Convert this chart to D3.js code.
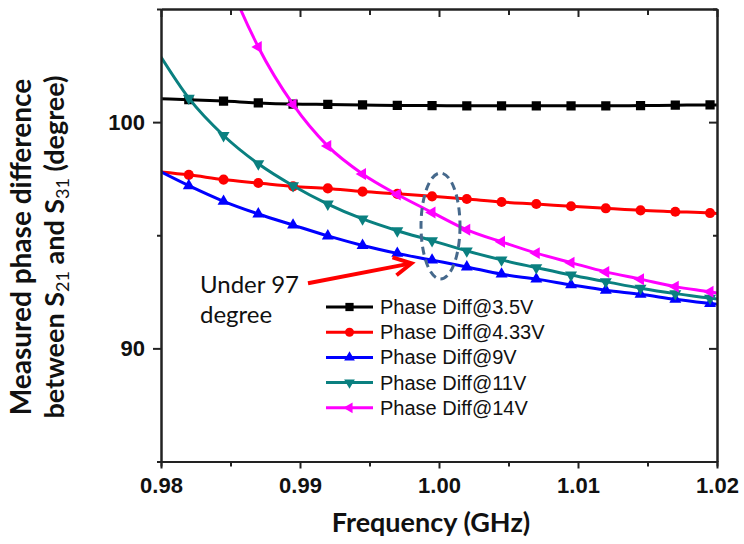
<!DOCTYPE html>
<html>
<head>
<meta charset="utf-8">
<script src="https://cdn.jsdelivr.net/npm/d3@7/dist/d3.min.js"></script>
<style>
  html, body { margin: 0; padding: 0; background: #fff; }
  svg { display: block; }
</style>
</head>
<body>
<svg id="chart" width="744" height="544"></svg>
<script>
// ---- data ----
const freq = [0.98, 0.982, 0.9845, 0.987, 0.9895, 0.992, 0.9945, 0.997, 0.9995,
              1.002, 1.0045, 1.007, 1.0095, 1.012, 1.0145, 1.017, 1.0195, 1.02];
const phase3_5V  = [101.03, 100.99, 100.93, 100.85, 100.80, 100.78, 100.76, 100.74, 100.73,
                    100.72, 100.72, 100.72, 100.72, 100.72, 100.73, 100.75, 100.76, 100.76];
const phase4_33V = [97.80, 97.67, 97.46, 97.31, 97.16, 97.07, 96.93, 96.83, 96.72,
                    96.60, 96.47, 96.38, 96.28, 96.19, 96.10, 96.04, 95.98, 95.96];
const phase9V    = [97.80, 97.19, 96.50, 95.94, 95.45, 94.97, 94.55, 94.20, 93.90,
                    93.60, 93.28, 93.06, 92.81, 92.57, 92.39, 92.17, 91.98, 91.95];
const phase11V   = [102.88, 101.06, 99.41, 98.16, 97.19, 96.38, 95.72, 95.20, 94.76,
                    94.31, 93.91, 93.57, 93.24, 92.95, 92.66, 92.42, 92.22, 92.18];
const phase14V   = [117.0, 111.7, 106.85, 103.32, 100.78, 98.94, 97.71, 96.80, 96.01,
                    95.24, 94.71, 94.21, 93.79, 93.38, 93.06, 92.73, 92.50, 92.45];
const seriesNames = ["Phase Diff@3.5V", "Phase Diff@4.33V", "Phase Diff@9V", "Phase Diff@11V", "Phase Diff@14V"];
const seriesValues = [phase3_5V, phase4_33V, phase9V, phase11V, phase14V];
const xTicks = [0.98, 0.99, 1.00, 1.01, 1.02];
const xMinorTicks = [0.985, 0.995, 1.005, 1.015];
const yTicks = [90, 100];
const yMinorTicks = [85, 95, 105];
const xDomain = [0.98, 1.02];
const yDomain = [85, 105];
const xLabel = "Frequency (GHz)";
const yLabelLine1 = "Measured phase difference";
const annotationLines = ["Under 97", "degree"];

// ---- styles ----
const colors = ["#000000", "#ff0000", "#0000ff", "#0a8080", "#ff00ff"];
const symbols = [d3.symbolSquare, d3.symbolCircle, d3.symbolTriangle, d3.symbolTriangle, d3.symbolTriangle];
const symSizes = [85, 80, 62, 62, 62];
const symRot = [0, 0, 0, 180, -90];

const svg = d3.select("#chart");
const m = { left: 161, right: 717, top: 9, bottom: 461.5 };
const x = d3.scaleLinear().domain(xDomain).range([m.left, m.right]);
const y = d3.scaleLinear().domain(yDomain).range([m.bottom, m.top]);

svg.append("defs").append("clipPath").attr("id", "plotclip")
  .append("rect").attr("x", m.left).attr("y", m.top)
  .attr("width", m.right - m.left).attr("height", m.bottom - m.top);

const plot = svg.append("g").attr("clip-path", "url(#plotclip)");
const line = d3.line().x((d, i) => x(freq[i])).y(d => y(d)).curve(d3.curveMonotoneX);

seriesValues.forEach((vals, s) => {
  plot.append("path").datum(vals)
    .attr("d", line).attr("fill", "none")
    .attr("stroke", colors[s]).attr("stroke-width", 3);
  const sym = d3.symbol().type(symbols[s]).size(symSizes[s]);
  plot.selectAll(null).data(vals.slice(1, -1)).enter().append("path")
    .attr("d", sym)
    .attr("transform", (d, i) => `translate(${x(freq[i + 1])},${y(d)}) rotate(${symRot[s]})`)
    .attr("fill", colors[s]);
});

// ---- axes ----
const axisColor = "#222";
function styleAxis(g) {
  g.select(".domain").attr("stroke", axisColor).attr("stroke-width", 2);
  g.selectAll(".tick line").attr("stroke", axisColor).attr("stroke-width", 2);
  g.selectAll(".tick text").attr("fill", "#111")
    .style("font-family", "'Liberation Sans', Arial, sans-serif")
    .style("font-weight", "bold").style("font-size", "22px");
}
// bottom
svg.append("g").attr("transform", `translate(0,${m.bottom})`)
  .call(d3.axisBottom(x).tickValues(xMinorTicks).tickSize(5).tickFormat(""))
  .call(styleAxis);
svg.append("g").attr("transform", `translate(0,${m.bottom})`)
  .call(d3.axisBottom(x).tickValues(xTicks).tickSize(7).tickSizeOuter(0).tickPadding(9).tickFormat(d3.format(".2f")))
  .call(styleAxis);
// top
svg.append("g").attr("transform", `translate(0,${m.top})`)
  .call(d3.axisTop(x).tickValues(xMinorTicks).tickSize(-6).tickSizeOuter(0).tickFormat(""))
  .call(styleAxis);
svg.append("g").attr("transform", `translate(0,${m.top})`)
  .call(d3.axisTop(x).tickValues(xTicks).tickSize(-8).tickSizeOuter(0).tickFormat(""))
  .call(styleAxis);
// left
svg.append("g").attr("transform", `translate(${m.left},0)`)
  .call(d3.axisLeft(y).tickValues(yMinorTicks).tickSize(4).tickSizeOuter(0).tickFormat(""))
  .call(styleAxis);
svg.append("g").attr("transform", `translate(${m.left},0)`)
  .call(d3.axisLeft(y).tickValues(yTicks).tickSize(8).tickSizeOuter(0).tickPadding(8).tickFormat(d3.format("d")))
  .call(styleAxis);
// right
svg.append("g").attr("transform", `translate(${m.right},0)`)
  .call(d3.axisRight(y).tickValues(yMinorTicks).tickSize(-4).tickSizeOuter(0).tickFormat(""))
  .call(styleAxis);
svg.append("g").attr("transform", `translate(${m.right},0)`)
  .call(d3.axisRight(y).tickValues(yTicks).tickSize(-8).tickSizeOuter(0).tickFormat(""))
  .call(styleAxis);

// ---- axis titles ----
const titleFont = "Lato, 'Open Sans', sans-serif";
svg.append("text").attr("x", 431).attr("y", 532)
  .attr("text-anchor", "middle")
  .style("font-family", titleFont).style("font-weight", "bold").style("font-size", "27px")
  .attr("fill", "#111").text(xLabel);

const yt = svg.append("g").attr("transform", "translate(0,247) rotate(-90)");
yt.append("text").attr("x", 0).attr("y", 31).attr("text-anchor", "middle")
  .style("font-family", titleFont).style("font-weight", "bold").style("font-size", "28px")
  .attr("fill", "#111").text(yLabelLine1);
const t2 = yt.append("text").attr("x", 0).attr("y", 64).attr("text-anchor", "middle")
  .style("font-family", titleFont).style("font-weight", "bold").style("font-size", "27px")
  .attr("fill", "#111");
t2.append("tspan").text("between S");
t2.append("tspan").attr("dy", 5).style("font-size", "18px").style("font-weight", "normal").text("21");
t2.append("tspan").attr("dy", -5).text(" and S");
t2.append("tspan").attr("dy", 5).style("font-size", "18px").style("font-weight", "normal").text("31");
t2.append("tspan").attr("dy", -5).text(" (degree)");

// ---- legend ----
const legX = 326, legY0 = 307, legDY = 25.2;
seriesNames.forEach((name, s) => {
  const g = svg.append("g").attr("transform", `translate(${legX},${legY0 + s * legDY})`);
  g.append("line").attr("x1", 0).attr("x2", 47).attr("y1", 0).attr("y2", 0)
    .attr("stroke", colors[s]).attr("stroke-width", 3);
  g.append("path").attr("d", d3.symbol().type(symbols[s]).size(symSizes[s] * 0.8))
    .attr("transform", `translate(23.5,0) rotate(${symRot[s]})`).attr("fill", colors[s]);
  g.append("text").attr("x", 54).attr("y", 7)
    .style("font-family", "'Liberation Sans', Arial, sans-serif").style("font-size", "20px")
    .attr("fill", "#111").text(name);
});

// ---- annotation ----
annotationLines.forEach((t, i) => {
  svg.append("text").attr("x", 200).attr("y", 293 + i * 30)
    .style("font-family", titleFont).style("font-size", "24px")
    .attr("fill", "#111").text(t);
});
// arrow
const ax0 = 308, ay0 = 283.3, ax1 = 411.5, ay1 = 263.3;
svg.append("line").attr("x1", ax0).attr("y1", ay0).attr("x2", ax1 - 3).attr("y2", ay1 + 0.6)
  .attr("stroke", "#ff0000").attr("stroke-width", 4);
svg.append("path")
  .attr("d", `M${ax1 - 19},${ay1 - 6} L${ax1},${ay1} L${ax1 - 15},${ay1 + 12}`)
  .attr("fill", "none").attr("stroke", "#ff0000").attr("stroke-width", 4)
  .attr("stroke-linejoin", "miter").attr("stroke-linecap", "butt");

// ellipse around 1.00 GHz
svg.append("ellipse")
  .attr("cx", x(1.00) + 1.5).attr("cy", 226).attr("rx", 19.5).attr("ry", 53)
  .attr("fill", "none").attr("stroke", "#46698c").attr("stroke-width", 3)
  .attr("stroke-dasharray", "8,5");
</script>
</body>
</html>
